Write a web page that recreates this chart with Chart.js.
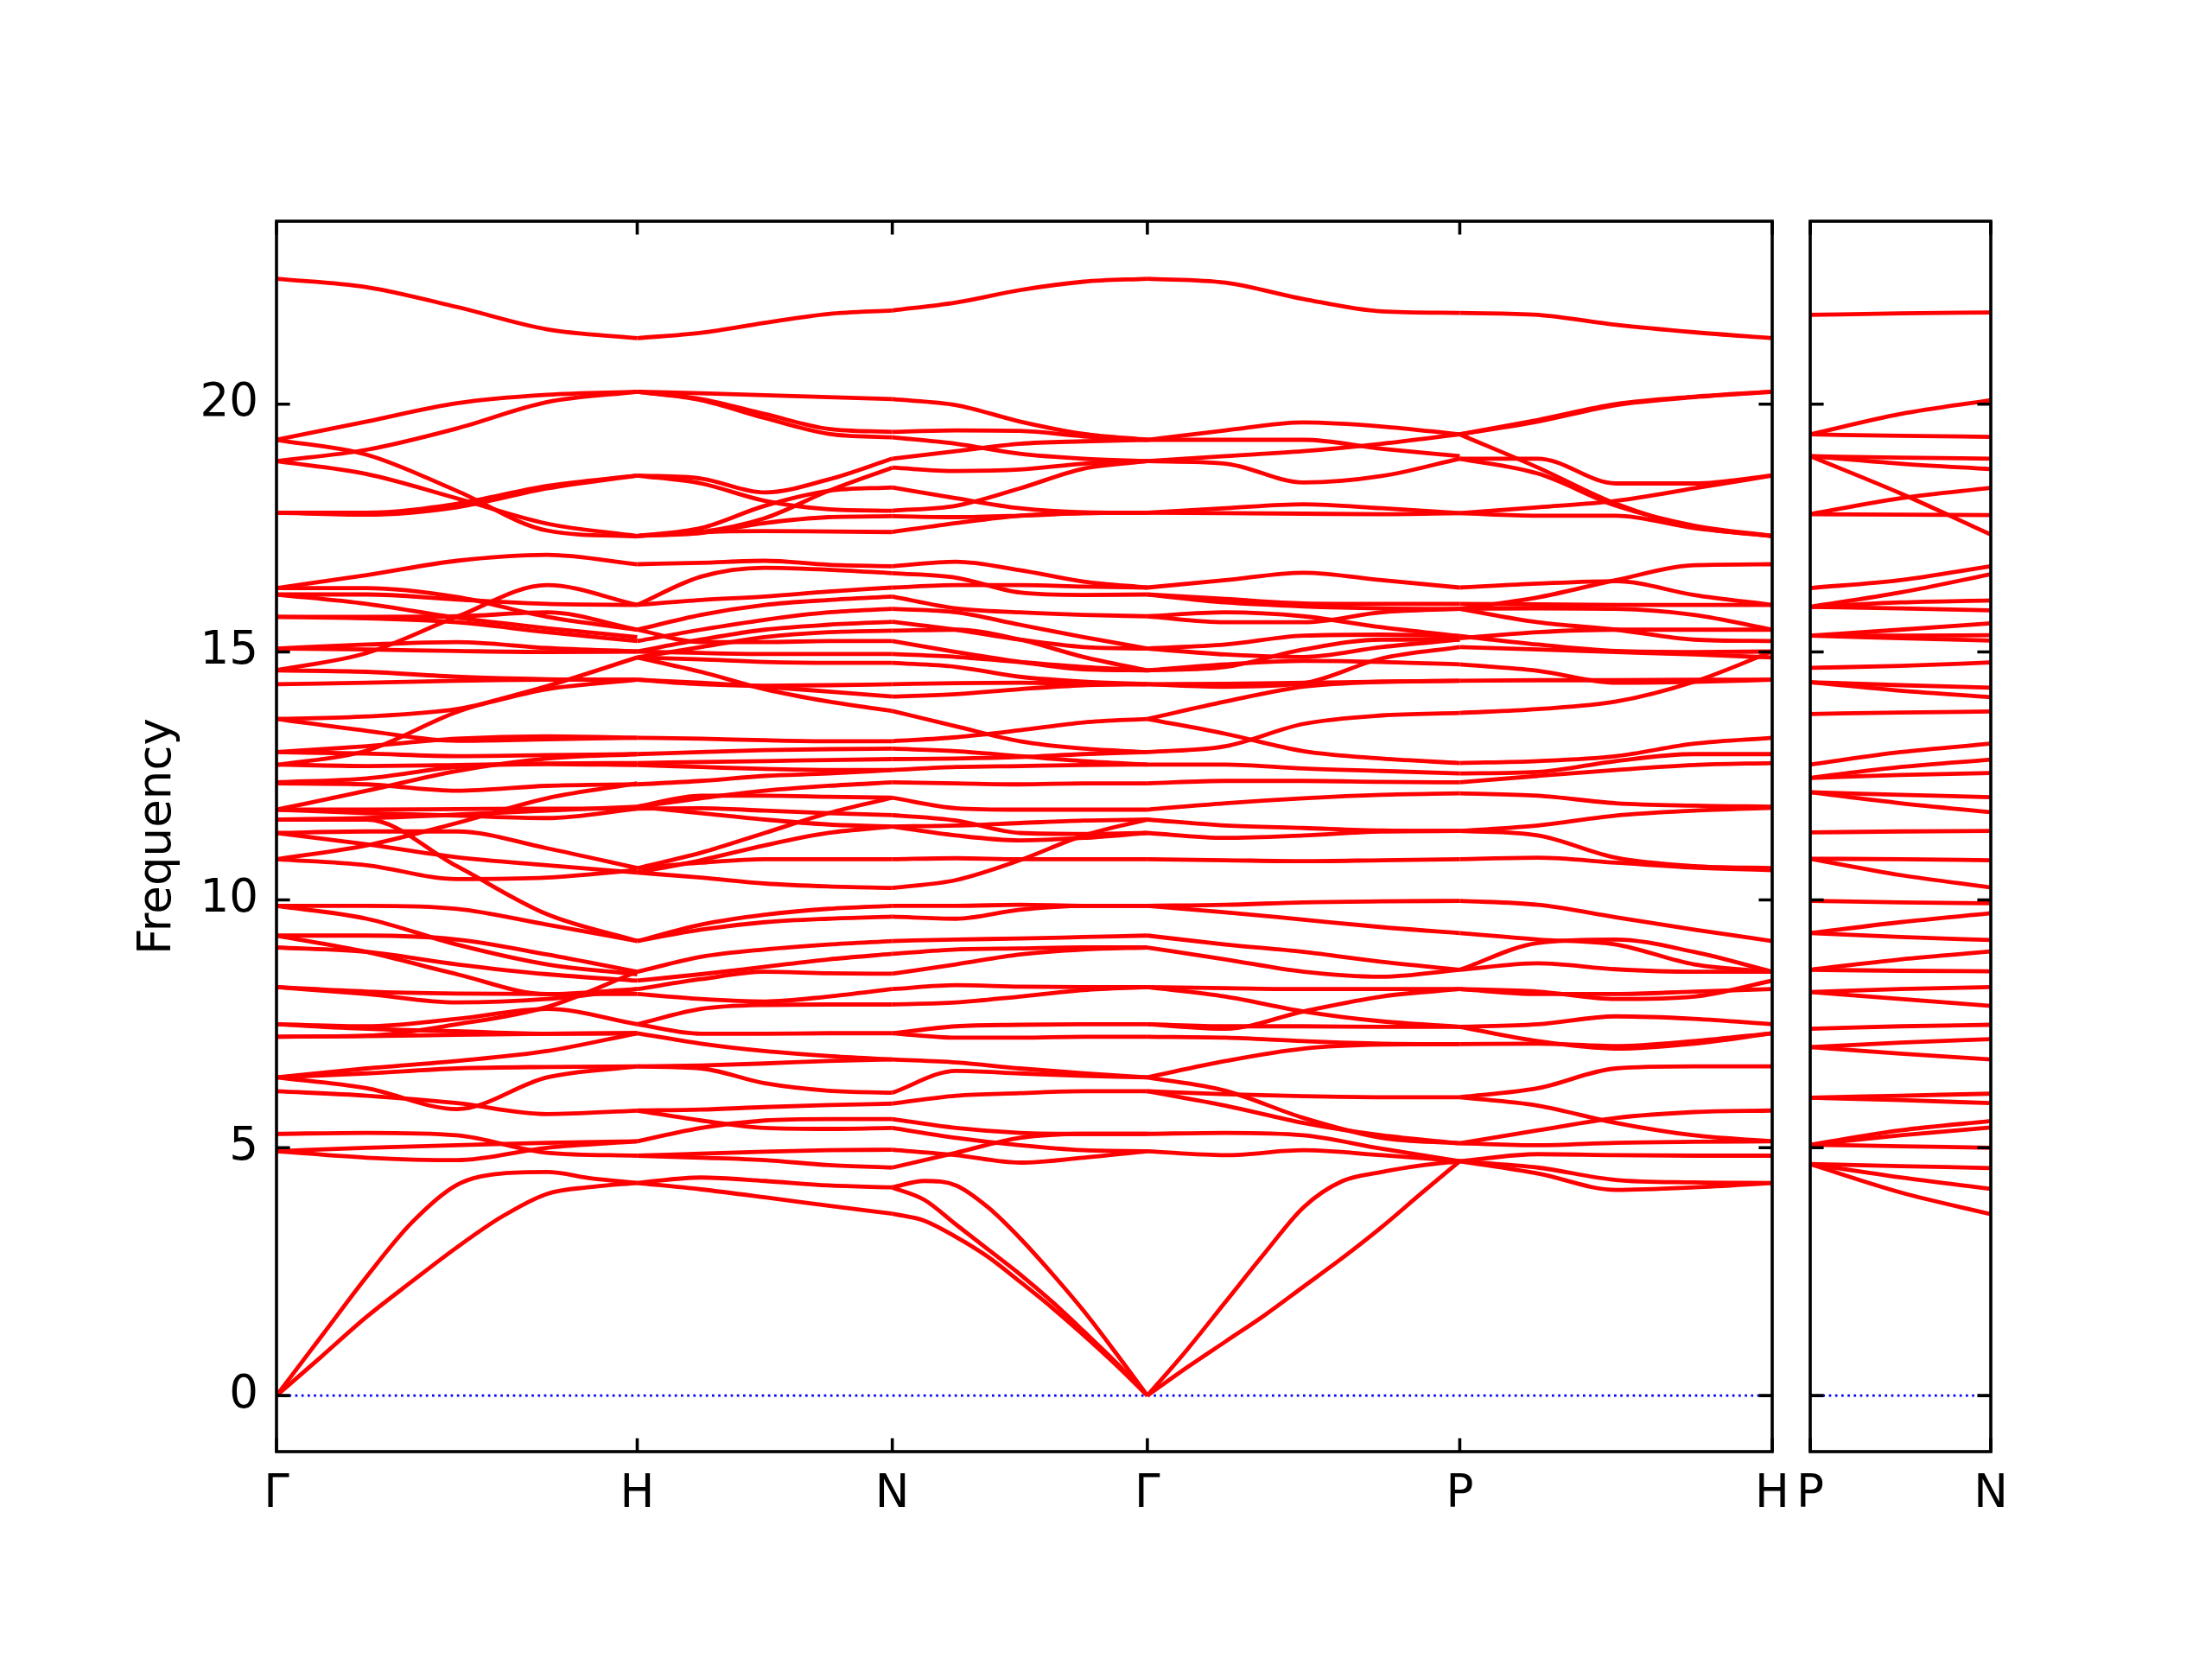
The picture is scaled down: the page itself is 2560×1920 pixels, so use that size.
<!DOCTYPE html>
<html>
<head>
<meta charset="utf-8">
<script src="https://cdn.jsdelivr.net/npm/chart.js@4.4.0/dist/chart.umd.min.js"></script>
<style>
  html, body { margin: 0; padding: 0; background: #fff; }
  #wrap { position: relative; width: 2560px; height: 1920px; }
  .box { position: absolute; top: 0; }
</style>
</head>
<body>
<div id="wrap">
  <div class="box" style="left:0"><canvas id="main" width="2120" height="1920"></canvas></div>
  <div class="box" style="left:2040px"><canvas id="side" width="520" height="1920"></canvas></div>
</div>
<script>
// path Γ-H-N-Γ-P-H | P-N  (distances in 2π/a)
const kDist = [0, 1.0, 1.7071, 2.4142, 3.2802, 4.1463];
const kLabels = ['Γ', 'H', 'N', 'Γ', 'P', 'H'];
const sideDist = [0, 0.5];
const sideLabels = ['P', 'N'];
const yTicks = [0, 5, 10, 15, 20];
const yMin = -1.13, yMax = 23.69;

// each row = one band over one segment, evenly spaced along the segment
const gammaH = [
  [22.53, 22.36, 21.96, 21.51, 21.33],
  [19.28, 19.65, 20.02, 20.19, 20.25],
  [18.85, 19.08, 19.51, 20.04, 20.25],
  [19.28, 18.98, 18.25, 17.45, 17.33],
  [18.85, 18.59, 18.10, 17.59, 17.34],
  [17.81, 17.81, 17.99, 18.35, 18.56],
  [17.81, 17.77, 17.92, 18.30, 18.56],
  [16.29, 16.55, 16.84, 16.96, 16.77],
  [16.16, 16.16, 16.06, 15.97, 15.95],
  [16.29, 16.29, 16.11, 15.71, 15.45],
  [16.16, 15.97, 15.69, 15.48, 15.30],
  [15.71, 15.71, 15.72, 15.80, 15.45],
  [15.71, 15.68, 15.60, 15.40, 15.22],
  [14.63, 14.98, 15.71, 16.35, 15.95],
  [15.07, 15.15, 15.20, 15.08, 15.01],
  [15.07, 15.05, 15.02, 15.00, 15.01],
  [14.63, 14.60, 14.50, 14.45, 14.44],
  [14.35, 14.38, 14.42, 14.44, 14.44],
  [13.65, 13.70, 13.85, 14.25, 14.44],
  [13.65, 13.41, 13.21, 13.24, 13.27],
  [12.72, 13.01, 13.79, 14.31, 14.89],
  [12.98, 13.10, 13.25, 13.30, 13.27],
  [12.98, 12.95, 12.90, 12.92, 12.94],
  [12.73, 12.70, 12.72, 12.75, 12.76],
  [12.37, 12.45, 12.68, 12.74, 12.72],
  [11.82, 12.20, 12.60, 12.85, 12.94],
  [10.82, 11.10, 11.55, 12.05, 12.35],
  [12.35, 12.33, 12.20, 12.30, 12.33],
  [11.82, 11.82, 11.83, 11.84, 11.84],
  [11.62, 11.65, 11.72, 11.80, 11.88],
  [11.82, 11.75, 11.70, 11.65, 11.84],
  [11.62, 11.62, 10.68, 9.71, 9.17],
  [11.35, 11.38, 11.38, 11.04, 10.64],
  [11.35, 11.12, 10.86, 10.70, 10.55],
  [10.82, 10.70, 10.42, 10.45, 10.60],
  [9.88, 9.88, 9.82, 9.50, 9.17],
  [9.88, 9.62, 9.10, 8.70, 8.50],
  [9.28, 9.28, 9.20, 8.90, 8.55],
  [9.28, 8.95, 8.50, 8.10, 8.20],
  [9.04, 8.95, 8.70, 8.50, 8.37],
  [8.24, 8.15, 8.11, 8.10, 8.10],
  [8.24, 8.10, 7.93, 8.00, 8.20],
  [7.24, 7.26, 7.49, 7.84, 8.55],
  [7.49, 7.45, 7.60, 7.80, 7.49],
  [7.49, 7.40, 7.35, 7.30, 7.31],
  [7.24, 7.25, 7.28, 7.30, 7.31],
  [6.42, 6.60, 6.75, 6.95, 7.31],
  [6.42, 6.50, 6.60, 6.63, 6.64],
  [6.42, 6.20, 5.78, 6.42, 6.64],
  [6.14, 6.05, 5.90, 5.68, 5.75],
  [5.28, 5.30, 5.25, 4.90, 4.84],
  [4.93, 4.80, 4.75, 5.00, 5.13],
  [4.93, 5.00, 5.05, 5.10, 5.13]
];
const gammaHAc = [
  [0, 1.20, 2.40, 3.49, 4.25, 4.48, 4.51, 4.38, 4.29],
  [0, 0.79, 1.59, 2.30, 2.99, 3.61, 4.07, 4.21, 4.29]
];

const hN = [
  [21.33, 21.44, 21.64, 21.82, 21.89],
  [20.25, 20.22, 20.18, 20.14, 20.10],
  [20.25, 20.10, 19.80, 19.50, 19.44],
  [20.25, 20.08, 19.72, 19.40, 19.33],
  [18.56, 18.50, 18.22, 18.48, 18.90],
  [18.56, 18.40, 18.05, 17.88, 17.85],
  [17.34, 17.42, 17.70, 18.25, 18.72],
  [17.34, 17.50, 17.95, 18.25, 18.32],
  [17.34, 17.40, 17.60, 17.72, 17.74],
  [17.34, 17.42, 17.44, 17.43, 17.42],
  [16.77, 16.80, 16.84, 16.76, 16.73],
  [15.95, 16.52, 16.70, 16.66, 16.59],
  [15.95, 16.05, 16.12, 16.22, 16.30],
  [15.45, 15.75, 15.95, 16.05, 16.12],
  [15.22, 15.45, 15.65, 15.80, 15.87],
  [15.45, 15.20, 15.20, 15.22, 15.22],
  [15.01, 15.25, 15.45, 15.55, 15.61],
  [14.89, 15.10, 15.30, 15.40, 15.43],
  [15.01, 14.98, 14.96, 14.96, 14.96],
  [14.89, 14.85, 14.80, 14.78, 14.78],
  [14.44, 14.35, 14.32, 14.33, 14.35],
  [14.89, 14.60, 14.25, 14.00, 13.81],
  [14.44, 14.38, 14.30, 14.20, 14.10],
  [13.27, 13.25, 13.22, 13.20, 13.20],
  [12.94, 12.98, 13.02, 13.04, 13.05],
  [12.76, 12.78, 12.80, 12.82, 12.84],
  [12.72, 12.68, 12.64, 12.62, 12.62],
  [12.33, 12.40, 12.50, 12.55, 12.62],
  [11.88, 12.05, 12.20, 12.30, 12.37],
  [11.88, 12.10, 12.10, 12.08, 12.06],
  [11.84, 11.85, 11.80, 11.75, 11.71],
  [11.88, 11.75, 11.62, 11.52, 11.48],
  [10.64, 10.95, 11.35, 11.75, 12.06],
  [10.55, 10.80, 11.10, 11.35, 11.48],
  [10.64, 10.75, 10.82, 10.82, 10.82],
  [10.55, 10.45, 10.33, 10.27, 10.24],
  [9.17, 9.50, 9.70, 9.82, 9.88],
  [9.17, 9.40, 9.55, 9.62, 9.66],
  [8.55, 8.85, 9.00, 9.10, 9.17],
  [8.37, 8.50, 8.65, 8.80, 8.91],
  [8.20, 8.40, 8.55, 8.52, 8.51],
  [8.10, 8.00, 7.95, 8.05, 8.20],
  [7.49, 7.80, 7.88, 7.89, 7.89],
  [7.31, 7.10, 6.95, 6.85, 6.78],
  [7.49, 7.30, 7.30, 7.31, 7.31],
  [6.64, 6.60, 6.30, 6.15, 6.11],
  [6.64, 6.66, 6.70, 6.75, 6.78],
  [5.75, 5.77, 5.82, 5.86, 5.89],
  [5.75, 5.55, 5.40, 5.38, 5.40],
  [5.13, 5.40, 5.55, 5.58, 5.58],
  [4.84, 4.88, 4.92, 4.95, 4.96],
  [4.84, 4.80, 4.75, 4.65, 4.60],
  [4.29, 4.40, 4.33, 4.24, 4.20],
  [4.29, 4.16, 4.00, 3.83, 3.67]
];

const nGamma = [
  [21.89, 22.05, 22.30, 22.47, 22.53],
  [20.10, 19.98, 19.65, 19.40, 19.28],
  [19.44, 19.47, 19.46, 19.35, 19.28],
  [19.33, 19.20, 19.00, 18.90, 18.85],
  [18.90, 19.05, 19.20, 19.25, 19.28],
  [18.72, 18.65, 18.68, 18.80, 18.85],
  [18.32, 18.10, 17.90, 17.82, 17.81],
  [17.85, 17.95, 18.30, 18.70, 18.85],
  [17.42, 17.60, 17.75, 17.80, 17.81],
  [17.74, 17.72, 17.75, 17.80, 17.81],
  [16.73, 16.82, 16.65, 16.42, 16.30],
  [16.59, 16.50, 16.20, 16.15, 16.16],
  [16.30, 16.35, 16.35, 16.32, 16.30],
  [16.12, 15.88, 15.80, 15.75, 15.72],
  [15.87, 15.80, 15.55, 15.30, 15.07],
  [15.61, 15.45, 15.25, 15.10, 15.07],
  [15.43, 15.45, 15.25, 14.90, 14.63],
  [15.22, 15.00, 14.80, 14.65, 14.63],
  [14.96, 14.90, 14.80, 14.70, 14.63],
  [14.78, 14.70, 14.50, 14.40, 14.35],
  [14.35, 14.37, 14.38, 14.36, 14.35],
  [14.10, 14.15, 14.25, 14.33, 14.35],
  [13.81, 13.50, 13.20, 13.05, 12.98],
  [13.20, 13.28, 13.42, 13.58, 13.65],
  [13.05, 13.00, 12.90, 12.80, 12.73],
  [12.84, 12.85, 12.88, 12.94, 12.98],
  [12.62, 12.68, 12.70, 12.72, 12.73],
  [12.37, 12.35, 12.33, 12.35, 12.35],
  [12.06, 11.85, 11.82, 11.82, 11.82],
  [11.71, 11.60, 11.35, 11.33, 11.35],
  [11.48, 11.30, 11.20, 11.25, 11.35],
  [11.48, 11.50, 11.55, 11.60, 11.62],
  [10.82, 10.84, 10.82, 10.82, 10.82],
  [10.24, 10.40, 10.80, 11.30, 11.62],
  [9.88, 9.88, 9.90, 9.88, 9.88],
  [9.66, 9.62, 9.80, 9.88, 9.88],
  [9.17, 9.20, 9.22, 9.25, 9.28],
  [8.91, 9.00, 9.02, 9.04, 9.04],
  [8.51, 8.70, 8.90, 9.00, 9.04],
  [8.20, 8.28, 8.25, 8.24, 8.24],
  [7.89, 7.93, 8.05, 8.18, 8.24],
  [7.31, 7.22, 7.22, 7.24, 7.24],
  [7.31, 7.45, 7.48, 7.49, 7.49],
  [6.78, 6.72, 6.60, 6.50, 6.42],
  [6.11, 6.55, 6.50, 6.45, 6.42],
  [5.89, 6.05, 6.10, 6.14, 6.14],
  [5.58, 5.40, 5.30, 5.28, 5.28],
  [5.40, 5.20, 5.05, 4.95, 4.93],
  [4.96, 4.85, 4.70, 4.80, 4.93],
  [4.60, 4.90, 5.20, 5.28, 5.28]
];
const nGammaAc = [
  [4.20, 4.33, 4.24, 3.80, 3.18, 2.47, 1.71, 0.87, 0],
  [4.20, 3.95, 3.45, 2.95, 2.45, 1.90, 1.30, 0.68, 0],
  [3.67, 3.53, 3.20, 2.80, 2.30, 1.78, 1.22, 0.63, 0]
];

const gammaP = [
  [22.53, 22.45, 22.12, 21.87, 21.84],
  [19.28, 19.47, 19.63, 19.55, 19.39],
  [19.28, 19.28, 19.28, 19.10, 18.95],
  [18.85, 18.80, 18.42, 18.55, 18.90],
  [18.85, 18.95, 19.05, 19.20, 19.39],
  [17.81, 17.90, 17.98, 17.90, 17.80],
  [17.81, 17.80, 17.79, 17.78, 17.80],
  [16.30, 16.45, 16.60, 16.45, 16.30],
  [16.16, 16.07, 15.98, 15.97, 15.97],
  [16.16, 16.00, 15.92, 15.88, 15.87],
  [15.72, 15.60, 15.60, 15.80, 15.87],
  [15.72, 15.80, 15.72, 15.50, 15.32],
  [15.07, 15.15, 15.33, 15.35, 15.32],
  [15.07, 14.95, 14.90, 15.10, 15.25],
  [14.63, 14.75, 14.82, 14.80, 14.75],
  [14.63, 14.70, 15.05, 15.25, 15.25],
  [14.35, 14.36, 14.38, 14.40, 14.42],
  [14.35, 14.30, 14.37, 14.87, 15.10],
  [13.65, 14.00, 14.30, 14.40, 14.42],
  [13.65, 13.35, 13.00, 12.85, 12.76],
  [12.98, 13.10, 13.55, 13.72, 13.77],
  [12.73, 12.73, 12.65, 12.60, 12.55],
  [12.35, 12.40, 12.40, 12.38, 12.37],
  [11.82, 11.95, 12.05, 12.12, 12.15],
  [11.62, 11.50, 11.45, 11.40, 11.39],
  [11.35, 11.25, 11.30, 11.38, 11.39],
  [10.82, 10.80, 10.78, 10.80, 10.82],
  [9.88, 9.90, 9.95, 9.97, 9.98],
  [9.88, 9.75, 9.60, 9.45, 9.33],
  [9.28, 9.10, 8.95, 8.75, 8.59],
  [9.04, 8.80, 8.55, 8.45, 8.59],
  [8.24, 8.05, 7.75, 7.55, 7.44],
  [8.24, 8.22, 8.20, 8.20, 8.20],
  [7.49, 7.40, 7.75, 8.05, 8.20],
  [7.24, 7.22, 7.15, 7.10, 7.09],
  [7.49, 7.45, 7.45, 7.44, 7.44],
  [6.42, 6.75, 7.00, 7.08, 7.09],
  [6.42, 6.15, 5.60, 5.20, 5.09],
  [6.14, 6.08, 6.04, 6.02, 6.02],
  [6.14, 5.85, 5.50, 5.25, 5.09],
  [5.28, 5.30, 5.25, 4.98, 4.73],
  [4.93, 4.85, 4.95, 4.85, 4.73]
];
const gammaPAc = [
  [0, 0.91, 1.89, 2.87, 3.80, 4.33, 4.51, 4.64, 4.73],
  [0, 0.56, 1.09, 1.62, 2.20, 2.78, 3.40, 4.07, 4.73]
];

const pH = [
  [21.84, 21.80, 21.60, 21.45, 21.33],
  [19.39, 19.68, 20.00, 20.15, 20.25],
  [19.39, 19.65, 19.98, 20.14, 20.25],
  [19.39, 18.72, 17.99, 17.52, 17.34],
  [18.90, 18.90, 18.40, 18.40, 18.56],
  [18.90, 18.60, 17.95, 17.55, 17.34],
  [17.80, 17.92, 18.05, 18.30, 18.56],
  [17.80, 17.75, 17.75, 17.50, 17.34],
  [15.87, 16.10, 16.45, 16.75, 16.77],
  [16.30, 16.38, 16.43, 16.15, 15.95],
  [15.97, 15.96, 15.95, 15.95, 15.95],
  [15.87, 15.88, 15.87, 15.75, 15.45],
  [15.87, 15.60, 15.45, 15.25, 15.22],
  [15.28, 15.40, 15.45, 15.45, 15.45],
  [15.32, 15.15, 15.02, 15.00, 15.01],
  [15.10, 15.05, 15.00, 14.95, 14.89],
  [14.75, 14.62, 14.38, 14.40, 14.44],
  [14.42, 14.43, 14.43, 14.44, 14.44],
  [13.77, 13.85, 14.00, 14.40, 15.01],
  [12.76, 12.80, 12.90, 13.15, 13.27],
  [12.55, 12.58, 12.80, 12.94, 12.94],
  [12.37, 12.50, 12.62, 12.72, 12.76],
  [12.15, 12.10, 11.95, 11.90, 11.88],
  [11.39, 11.50, 11.70, 11.80, 11.86],
  [11.39, 11.30, 10.85, 10.68, 10.64],
  [10.82, 10.85, 10.75, 10.65, 10.60],
  [9.98, 9.90, 9.65, 9.40, 9.17],
  [9.33, 9.20, 9.10, 8.70, 8.55],
  [8.59, 8.72, 8.60, 8.55, 8.55],
  [8.59, 9.13, 9.20, 8.95, 8.55],
  [8.20, 8.10, 8.10, 8.15, 8.20],
  [8.20, 8.15, 8.00, 8.05, 8.37],
  [7.44, 7.49, 7.65, 7.60, 7.49],
  [7.44, 7.15, 7.00, 7.10, 7.31],
  [7.09, 7.10, 7.05, 7.15, 7.31],
  [6.02, 6.20, 6.60, 6.64, 6.64],
  [6.02, 5.85, 5.50, 5.25, 5.13],
  [5.09, 5.35, 5.60, 5.72, 5.75],
  [5.09, 5.05, 5.10, 5.12, 5.13],
  [4.73, 4.48, 4.15, 4.20, 4.29],
  [4.73, 4.60, 4.35, 4.30, 4.29],
  [4.73, 4.87, 4.85, 4.84, 4.84]
];

const pN = [
  [21.80, 21.83, 21.85],
  [19.39, 19.80, 20.08],
  [19.39, 19.36, 19.34],
  [18.95, 18.92, 18.90],
  [18.95, 18.80, 18.69],
  [18.95, 18.20, 17.37],
  [17.78, 18.10, 18.31],
  [17.78, 17.77, 17.76],
  [16.29, 16.45, 16.73],
  [15.91, 16.20, 16.57],
  [15.91, 16.00, 16.04],
  [15.91, 15.88, 15.84],
  [15.33, 15.45, 15.58],
  [15.33, 15.33, 15.34],
  [15.33, 15.28, 15.23],
  [14.68, 14.72, 14.79],
  [14.39, 14.33, 14.28],
  [14.39, 14.22, 14.09],
  [13.75, 13.78, 13.80],
  [12.73, 12.98, 13.15],
  [12.46, 12.68, 12.83],
  [12.46, 12.52, 12.56],
  [12.17, 12.12, 12.07],
  [12.17, 11.95, 11.77],
  [11.36, 11.38, 11.39],
  [10.83, 10.82, 10.80],
  [10.83, 10.50, 10.25],
  [9.98, 9.95, 9.93],
  [9.33, 9.55, 9.73],
  [9.33, 9.25, 9.19],
  [8.59, 8.80, 8.96],
  [8.59, 8.57, 8.56],
  [8.14, 8.20, 8.24],
  [8.14, 8.00, 7.86],
  [7.40, 7.45, 7.48],
  [7.03, 7.12, 7.19],
  [7.03, 6.90, 6.78],
  [6.01, 6.05, 6.09],
  [6.01, 5.96, 5.90],
  [5.06, 5.35, 5.54],
  [5.06, 5.25, 5.41],
  [5.06, 5.03, 5.00],
  [4.67, 4.63, 4.59],
  [4.67, 4.40, 4.17],
  [4.67, 4.10, 3.66]
];

const FONT = 'DejaVu Sans';
const FS = 53;
const RED = '#ff0000';
const LW = 4.8;
const TICK = 15.6;

function segLines(rows, x0, x1) {
  return rows.map(r => ({
    data: r.map((f, i) => ({ x: x0 + (x1 - x0) * i / (r.length - 1), y: f })),
    borderColor: RED,
    borderWidth: LW,
    borderJoinStyle: 'round',
    pointRadius: 0,
    cubicInterpolationMode: 'monotone',
    fill: false
  }));
}

function zeroLine(x1) {
  return {
    data: [{ x: 0, y: 0 }, { x: x1, y: 0 }],
    borderColor: '#0000ff',
    borderWidth: 2.7,
    borderDash: [2.7, 4.5],
    pointRadius: 0,
    fill: false
  };
}

// frame + inward ticks on all four sides
const frame = {
  id: 'frame',
  afterDatasetsDraw(chart, args, opts) {
    const { ctx, chartArea: a, scales: { x, y } } = chart;
    ctx.save();
    ctx.strokeStyle = '#000';
    ctx.lineWidth = 3.6;
    ctx.beginPath();
    yTicks.forEach(v => {
      const py = y.getPixelForValue(v);
      ctx.moveTo(a.left, py); ctx.lineTo(a.left + TICK, py);
      ctx.moveTo(a.right, py); ctx.lineTo(a.right - TICK, py);
    });
    opts.xs.forEach(v => {
      const px = x.getPixelForValue(v);
      ctx.moveTo(px, a.top); ctx.lineTo(px, a.top + TICK);
      ctx.moveTo(px, a.bottom); ctx.lineTo(px, a.bottom - TICK);
    });
    ctx.stroke();
    ctx.strokeRect(a.left, a.top, a.right - a.left, a.bottom - a.top);
    ctx.restore();
  }
};

function xScale(dist, labels) {
  return {
    type: 'linear',
    min: dist[0],
    max: dist[dist.length - 1],
    afterFit: s => { s.height = 240; },
    afterBuildTicks: s => { s.ticks = dist.map(v => ({ value: v })); },
    grid: { display: false, drawTicks: false },
    border: { display: false },
    ticks: {
      autoSkip: false,
      maxRotation: 0,
      padding: 18,
      color: '#000',
      font: { family: FONT, size: FS },
      callback: (v, i) => labels[i]
    }
  };
}

const mainSets = [].concat(
  segLines(gammaH, kDist[0], kDist[1]),
  segLines(gammaHAc, kDist[0], kDist[1]),
  segLines(hN, kDist[1], kDist[2]),
  segLines(nGamma, kDist[2], kDist[3]),
  segLines(nGammaAc, kDist[2], kDist[3]),
  segLines(gammaP, kDist[3], kDist[4]),
  segLines(gammaPAc, kDist[3], kDist[4]),
  segLines(pH, kDist[4], kDist[5]),
  [zeroLine(kDist[5])]
);

const common = {
  responsive: false,
  animation: false,
  devicePixelRatio: 1,
  events: [],
  plugins: { legend: { display: false }, tooltip: { enabled: false } }
};

new Chart(document.getElementById('main'), {
  type: 'line',
  data: { datasets: mainSets },
  plugins: [frame],
  options: Object.assign({}, common, {
    layout: { padding: { left: 0, top: 256, right: 69, bottom: 0 } },
    plugins: Object.assign({}, common.plugins, { frame: { xs: kDist } }),
    scales: {
      x: xScale(kDist, kLabels),
      y: {
        type: 'linear',
        min: yMin,
        max: yMax,
        afterFit: s => { s.width = 320; },
        afterBuildTicks: s => { s.ticks = yTicks.map(v => ({ value: v })); },
        grid: { display: false, drawTicks: false },
        border: { display: false },
        ticks: { padding: 21, color: '#000', font: { family: FONT, size: FS } },
        title: {
          display: true,
          text: 'Frequency',
          color: '#000',
          font: { family: FONT, size: FS },
          padding: { top: 151, bottom: 0 }
        }
      }
    }
  })
});

new Chart(document.getElementById('side'), {
  type: 'line',
  data: { datasets: segLines(pN, sideDist[0], sideDist[1]).concat([zeroLine(sideDist[1])]) },
  plugins: [frame],
  options: Object.assign({}, common, {
    layout: { padding: { left: 55, top: 256, right: 256, bottom: 0 } },
    plugins: Object.assign({}, common.plugins, { frame: { xs: sideDist } }),
    scales: {
      x: xScale(sideDist, sideLabels),
      y: { type: 'linear', min: yMin, max: yMax, display: false }
    }
  })
});
</script>
</body>
</html>
